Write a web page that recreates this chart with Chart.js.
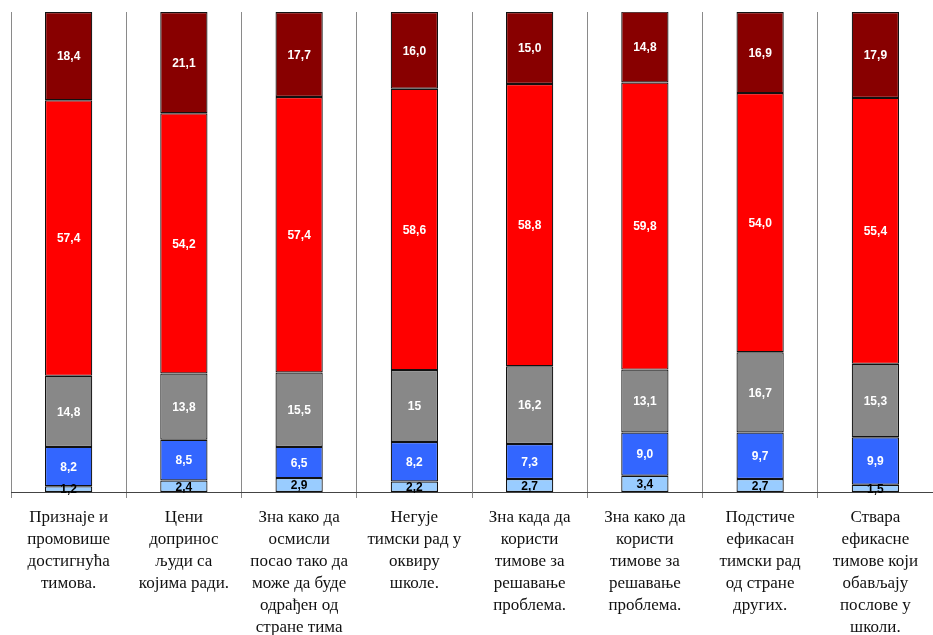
<!DOCTYPE html>
<html>
<head>
<meta charset="utf-8">
<script src="https://cdn.jsdelivr.net/npm/chart.js@4.4.1/dist/chart.umd.min.js"></script>
<style>
html,body{margin:0;padding:0;background:#fff;}
#wrap{width:933px;height:635px;position:relative;}
</style>
</head>
<body>
<div id="wrap"><canvas id="c" width="933" height="635"></canvas></div>
<script>
const categories = [
  ["Признаје и", "промовише", "достигнућа", "тимова."],
  ["Цени", "допринос", "људи са", "којима ради."],
  ["Зна како да", "осмисли", "посао тако да", "може да буде", "одрађен од", "стране тима"],
  ["Негује", "тимски рад у", "оквиру", "школе."],
  ["Зна када да", "користи", "тимове за", "решавање", "проблема."],
  ["Зна како да", "користи", "тимове за", "решавање", "проблема."],
  ["Подстиче", "ефикасан", "тимски рад", "од стране", "других."],
  ["Ствара", "ефикасне", "тимове који", "обављају", "послове у", "школи."]
];
// values as printed (comma decimal)
const series1 = ["1,2", "2,4", "2,9", "2,2", "2,7", "3,4", "2,7", "1,5"];
const series2 = ["8,2", "8,5", "6,5", "8,2", "7,3", "9,0", "9,7", "9,9"];
const series3 = ["14,8", "13,8", "15,5", "15", "16,2", "13,1", "16,7", "15,3"];
const series4 = ["57,4", "54,2", "57,4", "58,6", "58,8", "59,8", "54,0", "55,4"];
const series5 = ["18,4", "21,1", "17,7", "16,0", "15,0", "14,8", "16,9", "17,9"];

const toNum = a => a.map(s => parseFloat(s.replace(',', '.')));
const seriesList = [series1, series2, series3, series4, series5];
const colors = ['#99CCFF', '#3366FF', '#888888', '#FF0000', '#880000'];
const labelColors = ['#000000', '#FFFFFF', '#FFFFFF', '#FFFFFF', '#FFFFFF'];

const datasets = seriesList.map((s, i) => ({
  label: 'S' + (i + 1),
  data: toNum(s),
  raw: s,
  backgroundColor: colors[i],
  borderColor: '#111111',
  borderWidth: 1.2,
  borderSkipped: false,
  categoryPercentage: 1.0,
  barPercentage: 0.41
}));

const labelPlugin = {
  id: 'segLabels',
  afterDatasetsDraw(chart) {
    const ctx = chart.ctx;
    ctx.save();
    ctx.font = 'bold 12px "Liberation Sans", Arial, sans-serif';
    ctx.textAlign = 'center';
    ctx.textBaseline = 'middle';
    chart.data.datasets.forEach((ds, di) => {
      const meta = chart.getDatasetMeta(di);
      meta.data.forEach((bar, j) => {
        const yc = (bar.y + bar.base) / 2;
        ctx.fillStyle = labelColors[di];
        ctx.fillText(ds.raw[j], bar.x, yc + 1);
      });
    });
    ctx.restore();
  }
};

new Chart(document.getElementById('c'), {
  type: 'bar',
  data: { labels: categories, datasets },
  options: {
    responsive: false,
    animation: false,
    devicePixelRatio: 1,
    layout: { padding: { top: 12, left: 11, right: 0, bottom: 0 } },
    plugins: { legend: { display: false }, tooltip: { enabled: false } },
    scales: {
      x: {
        stacked: true,
        afterFit(scale) { scale.height = 143; },
        grid: { display: true, offset: true, color: '#8a8a8a', tickLength: 6, lineWidth: 1 },
        border: { display: true, color: '#444', width: 1 },
        ticks: {
          autoSkip: false, maxRotation: 0, minRotation: 0, padding: 9,
          color: '#111',
          font: { family: '"Liberation Serif", "Times New Roman", serif', size: 17, lineHeight: '22px' }
        }
      },
      y: { stacked: true, display: false, min: 0, max: 100 }
    }
  },
  plugins: [labelPlugin]
});
</script>
</body>
</html>
